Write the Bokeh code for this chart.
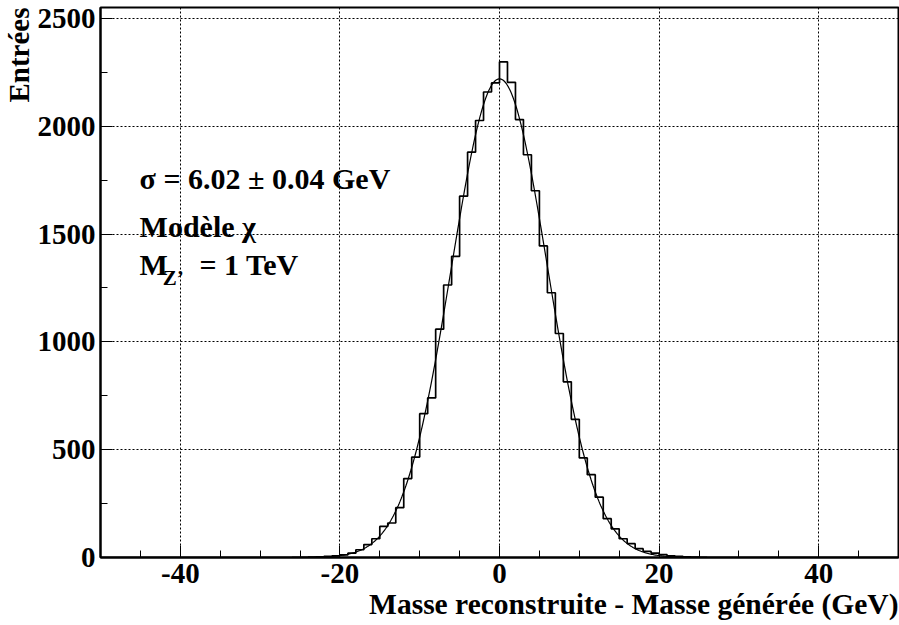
import numpy as np
from bokeh.plotting import figure
from bokeh.models import Label, SingleIntervalTicker, Range1d, Title
from bokeh.embed import file_html
from bokeh.resources import INLINE

# ---- data ----
bin_low = list(range(-26, 26))  # lower edges of 1 GeV bins
counts = [1, 1, 2, 3, 5, 8, 12, 20, 36, 60, 87, 144, 160, 231, 366, 466,
          667, 740, 1059, 1264, 1397, 1676, 1880, 2027, 2159, 2201,
          2299, 2204, 2031, 1868, 1701, 1445, 1228, 1039, 815, 641,
          462, 384, 280, 180, 133, 87, 64, 41, 28, 20, 13, 8, 5, 3, 2, 1]
fit_amp = 2220.0
fit_mean = 0.0
fit_sigma = 6.02
fit_range = (-24.0, 24.0)
x_ticks_interval = 20
y_ticks_interval = 500
x_tick_labels = {-40: "-40", -20: "-20", 0: "0", 20: "20", 40: "40"}

FONT = "Liberation Serif"
FS = "29px"

p = figure(width=899, height=625, x_range=Range1d(-50, 50), y_range=Range1d(0, 2551),
           output_backend="svg", toolbar_location=None,
           min_border_left=99, min_border_right=1, min_border_top=7, min_border_bottom=68)
p.title.visible = False
p.background_fill_color = "white"
p.border_fill_color = "white"
p.outline_line_color = "black"
p.outline_line_width = 2

# histogram as outline
edges = np.arange(-50, 51)
full = np.zeros(100)
for lo, c in zip(bin_low, counts):
    full[lo + 50] = c
xs = np.repeat(edges, 2)[1:-1]
ys = np.repeat(full, 2)
xs = np.concatenate([[edges[0]], xs, [edges[-1]]])
ys = np.concatenate([[0], ys, [0]])
p.line(xs, ys, line_color="black", line_width=1.7)

# fitted gaussian
xf = np.linspace(fit_range[0], fit_range[1], 400)
yf = fit_amp * np.exp(-0.5 * ((xf - fit_mean) / fit_sigma) ** 2)
p.line(xf, yf, line_color="black", line_width=1.2)

# axes
xa = p.xaxis[0]
ya = p.yaxis[0]
xa.ticker = SingleIntervalTicker(interval=x_ticks_interval, num_minor_ticks=4)
ya.ticker = SingleIntervalTicker(interval=y_ticks_interval, num_minor_ticks=2)
for ax in (xa, ya):
    ax.axis_line_color = "black"
    ax.axis_line_width = 2
    ax.major_tick_in = 12
    ax.major_tick_out = 0
    ax.minor_tick_in = 7
    ax.minor_tick_out = 0
    ax.major_tick_line_color = "black"
    ax.minor_tick_line_color = "black"
    ax.major_tick_line_width = 1
    ax.minor_tick_line_width = 1
    ax.major_label_text_font = FONT
    ax.major_label_text_font_style = "bold"
    ax.major_label_text_font_size = FS
    ax.major_label_text_color = "black"
xa.major_label_overrides = x_tick_labels
xa.major_label_standoff = 6
ya.major_label_standoff = 5

for g in (p.xgrid[0], p.ygrid[0]):
    g.grid_line_color = "black"
    g.grid_line_dash = "2 2"
    g.grid_line_width = 1
p.xgrid[0].ticker = xa.ticker
p.ygrid[0].ticker = ya.ticker

# axis titles (as side titles so they can be aligned to the end)
p.add_layout(Title(text="Masse reconstruite - Masse générée (GeV)", align="right",
                   text_font=FONT, text_font_style="bold", text_font_size="29.5px",
                   text_color="black", standoff=0, offset=0), "below")
p.add_layout(Title(text="Entrées", align="right",
                   text_font=FONT, text_font_style="bold", text_font_size=FS,
                   text_color="black", standoff=0, offset=0), "left")


def lab(text, x, y, size="30px", **kw):
    l = Label(x=x, y=y, text=text, text_font=FONT, text_font_style="bold",
              text_font_size=size, text_color="black", **kw)
    p.add_layout(l)
    return l


# statistics text
lab("σ = 6.02 ± 0.04 GeV", -45.1, 1759, text_baseline="alphabetic")
lab("Modèle χ", -45.1, 1537, text_baseline="alphabetic")
lab("M", -45.1, 1361, text_baseline="alphabetic")
lab("Z’", -42.2, 1296, size="21px", text_baseline="alphabetic")
lab("= 1 TeV", -37.6, 1361, text_baseline="alphabetic")

open("out.html", "w").write(file_html(p, INLINE))
